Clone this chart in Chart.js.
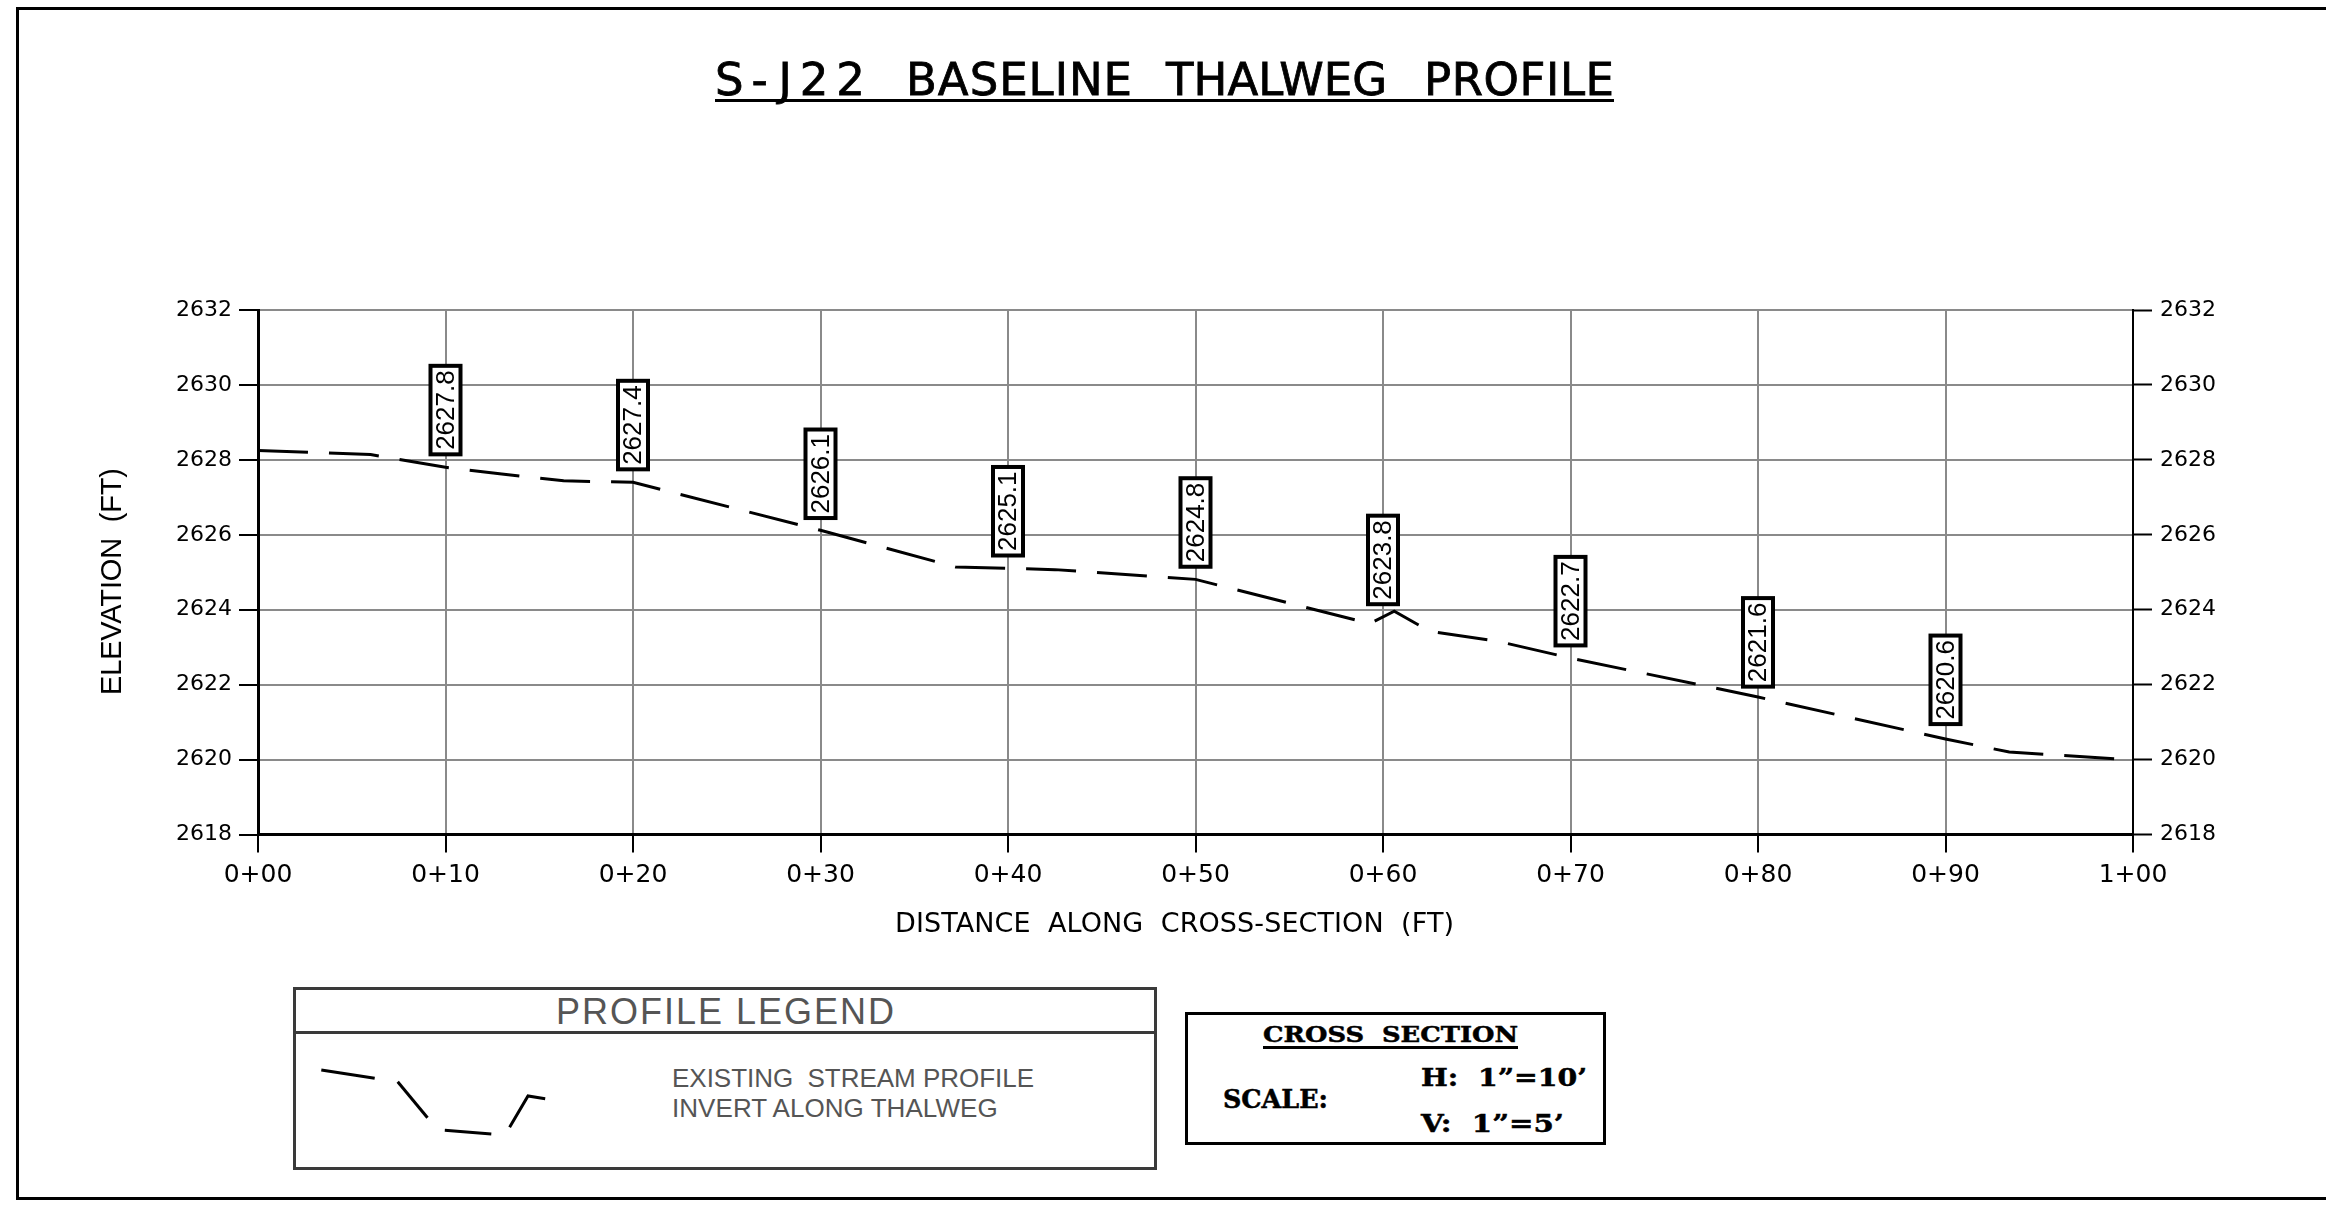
<!DOCTYPE html>
<html>
<head>
<meta charset="utf-8">
<title>S-J22 Baseline Thalweg Profile</title>
<script src="https://cdn.jsdelivr.net/npm/chart.js@4.4.1/dist/chart.umd.min.js"></script>
<style>
  html, body { margin: 0; padding: 0; background: #fff; }
  body { width: 2326px; height: 1208px; position: relative; overflow: hidden; }
  .abs { position: absolute; }
</style>
</head>
<body>
<div id="frame" class="abs" style="left:16px;top:7px;width:2400px;height:1193px;border:3px solid #000;border-right:none;box-sizing:border-box;"></div>
<canvas id="c" class="abs" width="2326" height="960" style="left:0;top:0;"></canvas>
<div class="abs" style="left:293px;top:987px;width:864px;height:183px;border:3px solid #3a3a3a;box-sizing:border-box;"></div>
<div class="abs" style="left:293px;top:1031px;width:864px;height:3px;background:#3a3a3a;"></div>
<svg class="abs" style="left:300px;top:1060px;" width="260" height="90">
  <g stroke="#000" stroke-width="3" fill="none" stroke-linecap="butt">
    <polyline points="21.3,10 74.7,18.3"/>
    <polyline points="97.7,21.7 127.5,57.7"/>
    <polyline points="144.8,70.3 191.3,74"/>
    <polyline points="209.6,67.3 228,36 245.2,38.7"/>
  </g>
</svg>
<div class="abs" style="left:1185px;top:1012px;width:421px;height:133px;border:3px solid #000;box-sizing:border-box;"></div>
<div class="abs" style="left:715px;top:99px;width:899px;height:3px;background:#000;"></div>
<div class="abs" style="left:1263px;top:1046px;width:255px;height:3px;background:#000;"></div>

<script>
// ---------------- DATA ----------------
const stations   = [0, 6, 10, 13, 16.3, 20, 30, 37.2, 42.5, 50, 59.3, 60.6, 62.5, 66.1, 70, 80, 90, 93.4, 100];
const elevations = [2628.25, 2628.14, 2627.80, 2627.62, 2627.44, 2627.40, 2626.12, 2625.14, 2625.07, 2624.81,
                    2623.63, 2623.96, 2623.42, 2623.16, 2622.71, 2621.67, 2620.55, 2620.20, 2619.99];
const labelStations = [10, 20, 30, 40, 50, 60, 70, 80, 90];
const labelTexts    = ['2627.8', '2627.4', '2626.1', '2625.1', '2624.8', '2623.8', '2622.7', '2621.6', '2620.6'];
const xTickLabels = ['0+00', '0+10', '0+20', '0+30', '0+40', '0+50', '0+60', '0+70', '0+80', '0+90', '1+00'];
const yTickValues = [2618, 2620, 2622, 2624, 2626, 2628, 2630, 2632];
const titleWords = ['S-J22', 'BASELINE', 'THALWEG', 'PROFILE'];
const xTitle = 'DISTANCE  ALONG  CROSS-SECTION  (FT)';
const yTitle = 'ELEVATION  (FT)';

// ---------------- FONTS ----------------
const CAD = '"DejaVu Sans", sans-serif';
const ARIAL = '"Liberation Sans", Arial, sans-serif';
const SERIF = '"DejaVu Serif", "Liberation Serif", serif';

// ---------------- HTML TEXT HELPER ----------------
const mctx = document.createElement('canvas').getContext('2d');
function place(txt, o, parent) {
  const weight = o.weight || 'normal';
  const el = document.createElement(parent ? 'span' : 'div');
  el.textContent = txt;
  el.style.position = 'absolute';
  el.style.whiteSpace = 'pre';
  el.style.fontFamily = o.family;
  el.style.fontSize = o.size + 'px';
  el.style.lineHeight = o.size + 'px';
  el.style.fontWeight = weight;
  el.style.color = o.color || '#000';
  if (o.stroke) el.style.webkitTextStroke = o.stroke + 'px ' + (o.color || '#000');
  mctx.font = weight + ' ' + o.size + 'px ' + o.family;
  mctx.letterSpacing = '0px';
  const m = mctx.measureText(txt);
  const n = [...txt].length;
  if (o.width) {
    if (o.mode === 'scale') {
      el.style.transformOrigin = '0 0';
      el.style.transform = 'scaleX(' + (o.width / m.width) + ')';
    } else {
      el.style.letterSpacing = ((o.width - m.width) / (n - 1)) + 'px';
    }
  }
  const asc = m.fontBoundingBoxAscent, desc = m.fontBoundingBoxDescent;
  el.style.top = (o.base - ((o.size - (asc + desc)) / 2 + asc)) + 'px';
  el.style.left = o.left + 'px';
  (parent || document.body).appendChild(el);
  return el;
}

// Title: one block of real text, each word fitted to its place
const titleBox = document.createElement('div');
titleBox.style.cssText = 'position:absolute;left:0;top:0;width:0;height:0;font-size:0;';
document.body.appendChild(titleBox);
const titleLefts = [715, 906, 1166, 1424], titleWidths = [150, 226, 221, 190];
titleWords.forEach((w, i) => {
  if (i > 0) titleBox.appendChild(document.createTextNode(' '));
  place(w, { left: titleLefts[i], base: 94.5, width: titleWidths[i], family: CAD, size: 45, stroke: 0.8 }, titleBox);
});

place('PROFILE LEGEND', { left: 556, base: 1024, width: 338, family: ARIAL, size: 36, color: '#555' });
place('EXISTING  STREAM PROFILE', { left: 672, base: 1086.5, width: 362, family: ARIAL, size: 26, color: '#555' });
place('INVERT ALONG THALWEG', { left: 672, base: 1116.5, width: 328, family: ARIAL, size: 26, color: '#555' });
place('CROSS  SECTION', { left: 1263, base: 1041.7, width: 255, family: SERIF, size: 23, weight: 'bold', mode: 'scale', stroke: 0.5 });
place('SCALE:', { left: 1223, base: 1108.3, width: 105, family: SERIF, size: 26, weight: 'bold', mode: 'scale', stroke: 0.5 });
place('H:  1\u201D=10\u2019', { left: 1421, base: 1086, width: 166, family: SERIF, size: 25, weight: 'bold', mode: 'scale', stroke: 0.5 });
place('V:  1\u201D=5\u2019', { left: 1421, base: 1131.7, width: 143, family: SERIF, size: 25, weight: 'bold', mode: 'scale', stroke: 0.5 });

// ---------------- CHART ----------------
const PLOT_LEFT = 258, PLOT_RIGHT = 2133, PLOT_TOP = 310, PLOT_BOTTOM = 834.5, CANVAS_H = 960;

function fitText(ctx, txt, width) {
  ctx.letterSpacing = '0px';
  const w = ctx.measureText(txt).width;
  const n = [...txt].length;
  ctx.letterSpacing = ((width - w) / (n - 1)) + 'px';
}

const overlay = {
  id: 'overlay',
  afterDatasetsDraw(chart) {
    const { ctx, scales: { x, y } } = chart;
    ctx.save();
    ctx.font = '26px ' + ARIAL;
    labelStations.forEach((s, i) => {
      const txt = labelTexts[i];
      const val = parseFloat(txt);
      const px = x.getPixelForValue(s);
      const bottom = y.getPixelForValue(val) - 13;
      const tw = ctx.measureText(txt).width;
      const h = tw + 9, w = 30;
      ctx.fillStyle = '#fff';
      ctx.fillRect(px - w / 2, bottom - h, w, h);
      ctx.lineWidth = 4;
      ctx.strokeStyle = '#000';
      ctx.strokeRect(px - w / 2, bottom - h, w, h);
      ctx.save();
      ctx.translate(px, bottom - h / 2);
      ctx.rotate(-Math.PI / 2);
      ctx.fillStyle = '#000';
      ctx.textAlign = 'center';
      ctx.textBaseline = 'middle';
      ctx.fillText(txt, 0, 1);
      ctx.restore();
    });
    ctx.restore();
  },
  afterDraw(chart) {
    const { ctx } = chart;
    ctx.save();
    ctx.fillStyle = '#000';
    ctx.textBaseline = 'alphabetic';
    ctx.textAlign = 'left';
    ctx.font = '27px ' + CAD;
    fitText(ctx, xTitle, 559);
    ctx.fillText(xTitle, 895, 931.7);
    ctx.font = '29px ' + ARIAL;
    fitText(ctx, yTitle, 227);
    ctx.translate(120.7, 695);
    ctx.rotate(-Math.PI / 2);
    ctx.fillText(yTitle, 0, 0);
    ctx.restore();
  }
};

const yTickOpts = {
  stepSize: yTickValues[1] - yTickValues[0],
  color: '#000',
  font: { family: CAD, size: 22 },
  padding: 7,
  callback: (v) => String(v)
};

new Chart(document.getElementById('c'), {
  type: 'line',
  data: {
    datasets: [{
      data: stations.map((s, i) => ({ x: s, y: elevations[i] })),
      borderColor: '#000',
      borderWidth: 3,
      borderDash: [50, 21],
      pointRadius: 0,
      fill: false,
      tension: 0
    }]
  },
  options: {
    responsive: false,
    animation: false,
    devicePixelRatio: 1,
    layout: { padding: { top: PLOT_TOP, left: 0, right: 0, bottom: 0 } },
    plugins: { legend: { display: false }, tooltip: { enabled: false }, title: { display: false } },
    scales: {
      x: {
        type: 'linear',
        min: 0, max: 100,
        ticks: {
          stepSize: 10, autoSkip: false, maxRotation: 0, color: '#000', padding: 8,
          font: { family: CAD, size: 25 },
          callback: (v) => xTickLabels[Math.round(v / 10)]
        },
        grid: { color: '#8a8a8a', lineWidth: 2, tickLength: 18, tickColor: '#000', tickWidth: 2 },
        border: { color: '#000', width: 3 },
        afterFit: (s) => { s.height = CANVAS_H - PLOT_BOTTOM; }
      },
      y: {
        position: 'left',
        min: yTickValues[0], max: yTickValues[yTickValues.length - 1],
        ticks: yTickOpts,
        grid: { color: '#8a8a8a', lineWidth: 2, tickLength: 19, tickColor: '#000', tickWidth: 2 },
        border: { color: '#000', width: 3 },
        afterFit: (s) => { s.width = PLOT_LEFT; }
      },
      y2: {
        position: 'right',
        min: yTickValues[0], max: yTickValues[yTickValues.length - 1],
        ticks: Object.assign({}, yTickOpts, { padding: 8 }),
        grid: { drawOnChartArea: false, tickLength: 19, tickColor: '#000', tickWidth: 2 },
        border: { color: '#000', width: 2 },
        afterFit: (s) => { s.width = 2326 - PLOT_RIGHT; }
      }
    }
  },
  plugins: [overlay]
});
</script>
</body>
</html>
